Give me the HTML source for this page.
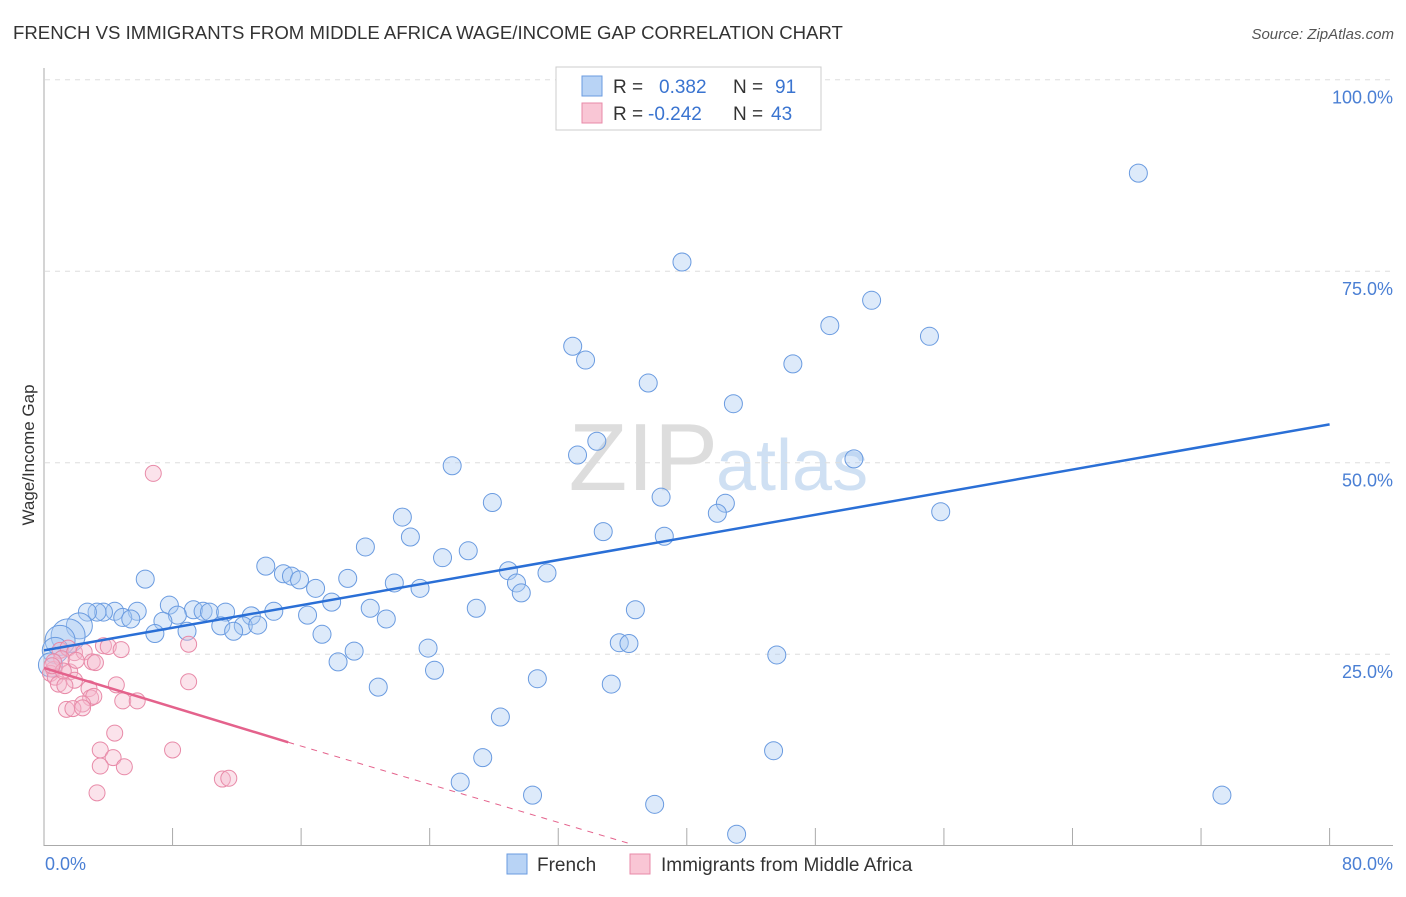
<!DOCTYPE html>
<html><head><meta charset="utf-8"><style>
body{margin:0;background:#fff;font-family:"Liberation Sans",sans-serif;}
svg text{font-family:"Liberation Sans",sans-serif;}
</style></head><body>
<svg id="chart" width="1406" height="892">
<text x="13" y="39" font-size="18.6" fill="#333">FRENCH VS IMMIGRANTS FROM MIDDLE AFRICA WAGE/INCOME GAP CORRELATION CHART</text>
<text x="1394" y="39" font-size="15" fill="#555" font-style="italic" text-anchor="end">Source: ZipAtlas.com</text>
<text x="718" y="490" font-size="96" fill="#ddd" text-anchor="end" font-family="Liberation Serif">ZIP</text>
<text x="716" y="490" font-size="72" fill="#cfe0f3">atlas</text>
<text transform="translate(34,455) rotate(-90)" font-size="17" fill="#333" text-anchor="middle">Wage/Income Gap</text>
<g id="grid"></g><g id="axes"></g><g id="pts"></g><g id="lines"></g>
<g>
<rect x="556" y="67" width="265" height="63" fill="#fff" stroke="#ccc"/>
<rect x="582" y="76" width="20" height="20" fill="#b8d3f5" stroke="#6a9be0"/>
<rect x="582" y="103" width="20" height="20" fill="#f9c6d5" stroke="#e88aa8"/>
<text x="613" y="93" font-size="19" fill="#333">R = <tspan fill="#3a74d0" x="659">0.382</tspan><tspan x="733" fill="#333">N = </tspan><tspan fill="#3a74d0" x="775">91</tspan></text>
<text x="613" y="120" font-size="19" fill="#333">R = <tspan fill="#3a74d0" x="648">-0.242</tspan><tspan x="733" fill="#333">N = </tspan><tspan fill="#3a74d0" x="771">43</tspan></text>
</g>
<g>
<rect x="507" y="854" width="20" height="20" fill="#b8d3f5" stroke="#6a9be0"/>
<text x="537" y="871" font-size="19" fill="#333">French</text>
<rect x="630" y="854" width="20" height="20" fill="#f9c6d5" stroke="#e88aa8"/>
<text x="661" y="871" font-size="19" fill="#333">Immigrants from Middle Africa</text>
</g>
</svg>
<script>
const frenchX=[68.1,39.7,51.5,48.9,55.1,32.9,33.7,46.6,37.6,42.9,34.4,33.2,50.4,25.4,38.4,27.9,42.4,41.9,55.8,22.3,34.8,38.6,22.8,20.0,26.4,24.8,13.8,28.9,31.3,14.9,15.4,15.9,6.3,18.9,29.4,21.8,16.9,23.4,29.7,17.9,7.8,26.9,20.3,36.8,9.3,9.9,10.3,11.3,14.3,16.4,12.9,21.3,8.3,5.8,4.4,3.7,3.3,2.7,4.9,5.4,7.4,12.4,11.0,13.3,8.9,6.9,11.8,17.3,35.8,36.4,23.9,19.3,45.6,18.3,24.3,30.7,20.8,35.3,28.4,27.3,45.4,25.9,30.4,38.0,73.3,43.1,2.2,1.5,1.0,0.7,0.4];
const frenchY=[87.8,76.2,71.2,67.9,66.5,65.2,63.4,62.9,60.4,57.7,52.8,51.0,50.5,49.6,45.5,44.8,44.7,43.4,43.6,42.9,41.0,40.4,40.3,39.0,38.5,37.6,36.5,35.9,35.6,35.5,35.2,34.7,34.8,34.9,34.3,34.3,33.6,33.6,33.0,31.8,31.4,31.0,31.0,30.8,30.8,30.6,30.5,30.5,30.6,30.1,30.0,29.6,30.1,30.6,30.6,30.5,30.5,30.5,29.8,29.6,29.3,28.7,28.7,28.8,28.0,27.7,28.0,27.6,26.5,26.4,25.8,25.4,24.9,24.0,22.9,21.8,20.7,21.1,16.8,11.5,12.4,8.3,6.6,5.4,6.6,1.5,28.7,27.4,26.8,25.5,23.6];
const frenchR=[9,9,9,9,9,9,9,9,9,9,9,9,9,9,9,9,9,9,9,9,9,9,9,9,9,9,9,9,9,9,9,9,9,9,9,9,9,9,9,9,9,9,9,9,9,9,9,9,9,9,9,9,9,9,9,9,9,9,9,9,9,9,9,9,9,9,9,9,9,9,9,9,9,9,9,9,9,9,9,9,9,9,9,9,9,9,13,17,15,13,12];
const immX=[6.8,1.0,1.5,1.9,2.5,3.7,4.0,4.8,9.0,3.0,3.2,0.6,0.4,0.7,0.9,1.6,1.9,1.3,2.8,4.5,9.0,2.9,3.1,4.9,5.8,2.4,1.4,1.8,2.4,4.4,8.0,3.5,4.3,3.5,5.0,11.1,11.5,3.3,1.1,0.6,1.2,0.5,2.0];
const immY=[48.6,25.5,25.8,25.2,25.3,26.1,26.0,25.6,26.3,24.0,23.9,23.0,22.5,22.0,21.1,22.7,21.6,20.9,20.5,21.0,21.4,19.3,19.5,18.9,18.9,18.5,17.8,17.9,18.0,14.7,12.5,12.5,11.5,10.4,10.3,8.7,8.8,6.9,24.4,24.0,22.8,23.5,24.2];
const frenchLine=[[0,25.5],[80,55.0]];
const immLine=[[0,23.2],[15.2,13.5]];
const immDash=[[15.2,13.5],[36.4,0.3]];
const yTicks=[25,50,75,100];
const xTicks=[0,8,16,24,32,40,48,56,64,72,80];
const sx=v=>44+v*16.07, sy=v=>845.7-v*7.66;
const NS='http://www.w3.org/2000/svg';
function mk(tag,attrs,parent){const e=document.createElementNS(NS,tag);for(const k in attrs)e.setAttribute(k,attrs[k]);document.getElementById(parent).appendChild(e);return e;}
yTicks.forEach(t=>{
 const l=mk('line',{x1:45,x2:1393,y1:sy(t),y2:sy(t),stroke:'#ddd','stroke-dasharray':'5,5'},'grid');
 
 
 const tx=mk('text',{x:1393,y:sy(t)+24,'font-size':18,fill:'#4a7fd4','text-anchor':'end'},'grid');
 tx.textContent=t.toFixed(1)+'%';
 
 
});
const ax=mk('line',{x1:44,x2:44,y1:68,y2:846,stroke:'#aaa'},'axes');


const bx=mk('line',{x1:44,x2:1393,y1:845.5,y2:845.5,stroke:'#aaa'},'axes');


xTicks.slice(1).forEach(t=>{
 const l=mk('line',{x1:sx(t),x2:sx(t),y1:828,y2:845,stroke:'#aaa'},'axes');
 
 
});
[[0,'start'],[80,'end']].forEach(([t,a])=>{
 const tx=mk('text',{x:t===0?45:1393,y:870,'font-size':18,fill:'#4a7fd4','text-anchor':a},'axes');
 tx.textContent=t.toFixed(1)+'%';
 
 
});
frenchX.forEach((x,i)=>{
 const c=mk('circle',{cx:sx(x),cy:sy(frenchY[i]),r:frenchR[i],fill:'rgba(170,202,242,0.4)',stroke:'#6a9be0','stroke-width':1},'pts');
 
 
});
immX.forEach((x,i)=>{
 const c=mk('circle',{cx:sx(x),cy:sy(immY[i]),r:8,fill:'rgba(246,185,205,0.4)',stroke:'#e88aa8','stroke-width':1},'pts');
 
 
});
const fl=mk('line',{x1:sx(frenchLine[0][0]),y1:sy(frenchLine[0][1]),x2:sx(frenchLine[1][0]),y2:sy(frenchLine[1][1]),stroke:'#2a6fd6','stroke-width':2.5},'lines');


const il=mk('line',{x1:sx(immLine[0][0]),y1:sy(immLine[0][1]),x2:sx(immLine[1][0]),y2:sy(immLine[1][1]),stroke:'#e4628c','stroke-width':2.5},'lines');


const id=mk('line',{x1:sx(immDash[0][0]),y1:sy(immDash[0][1]),x2:sx(immDash[1][0]),y2:sy(immDash[1][1]),stroke:'#e4628c','stroke-width':1,'stroke-dasharray':'6,6'},'lines');


</script>
</body></html>
